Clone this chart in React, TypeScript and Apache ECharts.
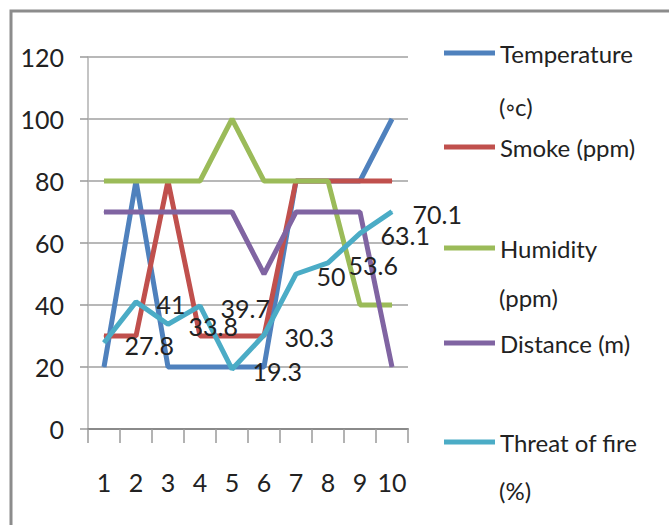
import React, { useEffect, useRef } from "react";
import * as echarts from "echarts";

const categories = ["1", "2", "3", "4", "5", "6", "7", "8", "9", "10"];
const temperature = [20, 80, 20, 20, 20, 20, 80, 80, 80, 100];
const smoke = [30, 30, 80, 30, 30, 30, 80, 80, 80, 80];
const humidity = [80, 80, 80, 80, 100, 80, 80, 80, 40, 40];
const distance = [70, 70, 70, 70, 70, 50, 70, 70, 70, 20];
const threat = [27.8, 41, 33.8, 39.7, 19.3, 30.3, 50, 53.6, 63.1, 70.1];

const seriesNames = ["Temperature (◦c)", "Smoke (ppm)", "Humidity (ppm)", "Distance (m)", "Threat of fire (%)"];
const legendFirstLines = ["Temperature", "Smoke (ppm)", "Humidity", "Distance (m)", "Threat of fire"];
const legendSecondLines = ["(◦c)", "", "(ppm)", "", "(%)"];
const colors = ["#4F81BD", "#C0504D", "#9BBB59", "#8064A2", "#4BACC6"];

const FONT = "Lato, 'Liberation Sans', sans-serif";
const FS = 24;

export default function App() {
  const ref = useRef<HTMLDivElement>(null);
  useEffect(() => {
    if (!ref.current) return;
    const chart = echarts.init(ref.current, undefined, { renderer: "svg" });
    const dataSets = [temperature, smoke, humidity, distance, threat];
    const legendIconY = [53, 147, 248, 343, 442];
    const secondLineY = [106, 0, 297, 0, 490];

    const series = dataSets.map((d, i) => ({
      name: seriesNames[i],
      type: "line",
      data: d,
      symbol: "circle",
      symbolSize: 1,
      showSymbol: true,
      itemStyle: { color: colors[i] },
      lineStyle: { color: colors[i], width: 5 },
      label:
        i === 4
          ? {
              show: true,
              position: "right",
              distance: 20,
              offset: [0, 2],
              color: "#222",
              fontSize: FS + 1,
              fontFamily: FONT,
            }
          : { show: false },
      emphasis: { disabled: true },
      z: 2 + i,
    }));

    const legends = seriesNames.map((n, i) => ({
      data: [n],
      orient: "vertical",
      left: 444,
      top: legendIconY[i] - FS / 2,
      padding: 0,
      icon: "rect",
      itemWidth: 51,
      itemHeight: 5,
      selectedMode: false,
      formatter: () => legendFirstLines[i],
      textStyle: { fontSize: FS, fontFamily: FONT, color: "#222" },
    }));

    const graphics: any[] = [
      {
        type: "rect",
        shape: { x: 11, y: 11, width: 700, height: 600 },
        style: { fill: "none", stroke: "#8c8c8c", lineWidth: 3 },
        silent: true,
      },
    ];
    legendSecondLines.forEach((t, i) => {
      if (!t) return;
      graphics.push({
        type: "text",
        x: 499,
        y: secondLineY[i],
        style: {
          text: t,
          fontSize: FS,
          fontFamily: FONT,
          fill: "#222",
          verticalAlign: "middle",
          align: "left",
        },
        silent: true,
      });
    });

    chart.setOption({
      animation: false,
      backgroundColor: "#ffffff",
      grid: { left: 88, top: 57, width: 320, height: 372, containLabel: false },
      legend: legends,
      graphic: graphics,
      xAxis: {
        type: "category",
        data: categories,
        boundaryGap: true,
        axisLine: { lineStyle: { color: "#8a8a8a", width: 2 } },
        axisTick: { show: true, interval: 0, length: 14, lineStyle: { color: "#9a9a9a", width: 1.5 } },
        axisLabel: { margin: 40, fontSize: FS + 1, fontFamily: FONT, color: "#222", interval: 0 },
        splitLine: { show: false },
      },
      yAxis: {
        type: "value",
        min: 0,
        max: 120,
        interval: 20,
        axisLine: { show: true, lineStyle: { color: "#b0b0b0", width: 1.5 } },
        axisTick: { show: true, length: 8, lineStyle: { color: "#9a9a9a", width: 1.5 } },
        axisLabel: { margin: 24, fontSize: FS + 1, fontFamily: FONT, color: "#222" },
        splitLine: { show: true, lineStyle: { color: "#a0a0a0", width: 1.5 } },
      },
      series,
    });
    return () => chart.dispose();
  }, []);
  return (
    <div
      ref={ref}
      style={{ position: "fixed", left: 0, top: 0, width: 669, height: 525, background: "#fff" }}
    />
  );
}
